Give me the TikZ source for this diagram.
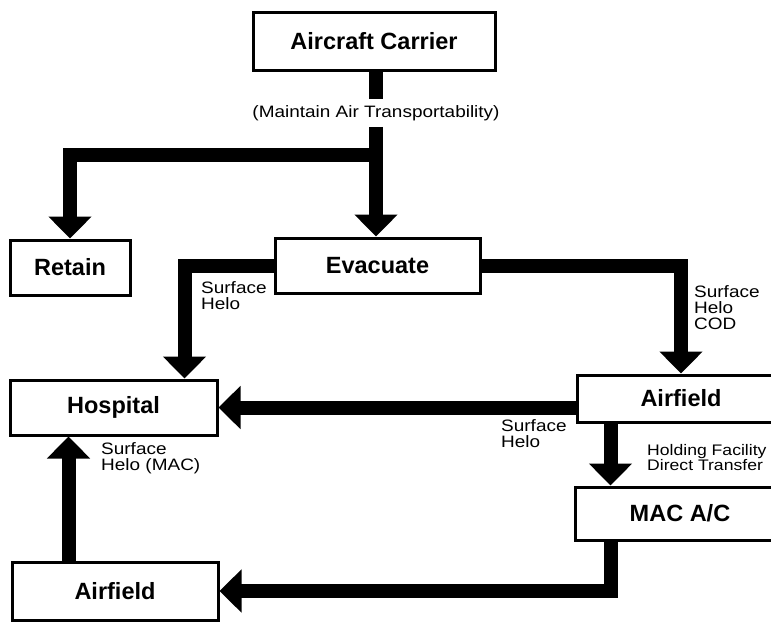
\documentclass[tikz,border=0pt]{standalone}
\usepackage{fontspec}
\setmainfont{Liberation Sans}
\newfontfamily\labelfont[FakeStretch=1.15]{Liberation Sans}
\usetikzlibrary{arrows.meta}
\tikzset{
  box/.style={draw, line width=3pt, inner sep=0pt,
    font=\bfseries\fontsize{23.5}{26}\selectfont},
  stem/.style={line width=14pt},
  flow/.style={line width=14pt, -{Triangle[width=42pt,length=22pt]}},
  lbl/.style={font=\labelfont\fontsize{16.5}{16}\selectfont, align=left,
    anchor=north west, inner sep=0pt}
}

\begin{document}
\begin{tikzpicture}[x=1pt,y=-1pt]
  \useasboundingbox (0,0) rectangle (771,622);

  % boxes
  \node[box, minimum width=242pt, minimum height=58pt] (carrier) at (374,41) {Aircraft Carrier};
  \node[box, minimum width=120pt, minimum height=55pt] (retain) at (70,267.5) {Retain};
  \node[box, minimum width=205pt, minimum height=55pt] (evac) at (377.5,265.5) {Evacuate};
  \node[box, minimum width=207pt, minimum height=55pt] (hosp) at (113.5,407.5) {Hospital};
  \node[box, minimum width=208pt, minimum height=47pt] (airR) at (681,398.5) {Airfield};
  \node[box, minimum width=210pt, minimum height=53pt] (mac) at (680,513.5) {MAC A/C};
  \node[box, minimum width=206pt, minimum height=58pt] (airB) at (115,591) {Airfield};

  \node[font=\labelfont\fontsize{16.5}{18}\selectfont, inner xsep=0pt, inner ysep=6pt]
    (note) at (376,113) {(Maintain Air Transportability)};
  \coordinate (split) at (376,155);

  % connectors
  \draw[stem] (note.north |- carrier.south) -- (note.north);
  \draw[flow] (note.south) -- (note.south |- evac.north);
  \draw[flow] (split) -| (retain.north);
  \draw[flow] (evac.west) -| ([xshift=-34pt]hosp.north east);
  \draw[flow] (evac.east) -| (airR.north);
  \draw[flow] (airR.west |- hosp.east) -- (hosp.east);
  \draw[flow] ([xshift=35pt]airR.south west) -- ([xshift=37pt]mac.north west);
  \draw[flow] ([xshift=37pt]mac.south west) |- (airB.east);
  \draw[flow] ([xshift=58pt]airB.north west) -- ([xshift=60pt]hosp.south west);

  % labels
  \node[lbl] (l1) at (201,281) {Surface\\Helo};
  \node[lbl] (l2) at (694,285) {Surface\\Helo\\COD};
  \node[lbl] (l3) at (501,419) {Surface\\Helo};
  \node[lbl, font=\labelfont\fontsize{15.3}{15.5}\selectfont] (l4) at (647,444) {Holding Facility\\Direct Transfer};
  \node[lbl] (l5) at (101,442) {Surface\\Helo (MAC)};
\end{tikzpicture}
\end{document}
